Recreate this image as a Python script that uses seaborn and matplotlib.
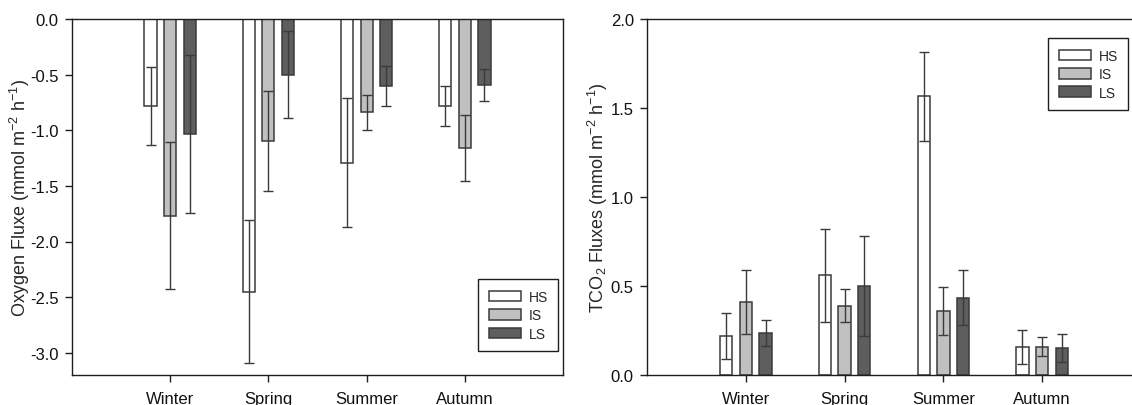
import numpy as np
import pandas as pd
import matplotlib
matplotlib.use("Agg")
import matplotlib.pyplot as plt
import seaborn as sns
from matplotlib.container import BarContainer

# ---------------- data ----------------
seasons = ["Winter", "Spring", "Summer", "Autumn"]
sites = ["HS", "IS", "LS"]

o2_hs = [-0.78, -2.45, -1.29, -0.78]
o2_is = [-1.77, -1.10, -0.84, -1.16]
o2_ls = [-1.03, -0.50, -0.60, -0.59]
o2_hs_err = [0.35, 0.645, 0.58, 0.18]
o2_is_err = [0.66, 0.45, 0.16, 0.295]
o2_ls_err = [0.71, 0.39, 0.18, 0.145]

tco2_hs = [0.22, 0.56, 1.565, 0.155]
tco2_is = [0.41, 0.39, 0.36, 0.16]
tco2_ls = [0.235, 0.50, 0.435, 0.15]
tco2_hs_err = [0.13, 0.26, 0.25, 0.096]
tco2_is_err = [0.18, 0.095, 0.137, 0.055]
tco2_ls_err = [0.074, 0.28, 0.155, 0.078]

o2_ticks = [0.0, -0.5, -1.0, -1.5, -2.0, -2.5, -3.0]
tco2_ticks = [0.0, 0.5, 1.0, 1.5, 2.0]

# ---------------- style ----------------
sns.set_style("ticks")
plt.rcParams["font.family"] = ["Liberation Sans", "DejaVu Sans"]
plt.rcParams["mathtext.fontset"] = "custom"
plt.rcParams["mathtext.rm"] = "Liberation Sans"
plt.rcParams["mathtext.it"] = "Liberation Sans:italic"
plt.rcParams["mathtext.default"] = "regular"
plt.rcParams["axes.unicode_minus"] = False

EDGE = "#3a3a3a"
SPINE = "#1e1e1e"
palette = {"HS": "#ffffff", "IS": "#c0c0c0", "LS": "#5e5e5e"}


def make_df(hs, is_, ls):
    rows = []
    for site, vals in zip(sites, [hs, is_, ls]):
        for s, v in zip(seasons, vals):
            rows.append({"season": s, "site": site, "value": v})
    return pd.DataFrame(rows)


def draw_panel(ax, vals, errs, ylim, yticks, ylabel, legend_loc, legend_anchor, label_x):
    df = make_df(*vals)
    sns.barplot(data=df, x="season", y="value", hue="site", order=seasons,
                hue_order=sites, palette=palette, width=0.6, gap=0.38,
                errorbar=None, edgecolor=EDGE, linewidth=1.1, saturation=1,
                legend=False, ax=ax, zorder=2)
    bars = [c for c in ax.containers if isinstance(c, BarContainer)]
    handles = []
    for cont, v, e in zip(bars, vals, errs):
        xs = [b.get_x() + b.get_width() / 2 for b in cont.patches]
        ax.errorbar(xs, v, yerr=e, fmt="none", ecolor=EDGE, elinewidth=1.0,
                    capsize=3.6, capthick=1.0, zorder=3)
        handles.append(cont.patches[0])
    leg = ax.legend(handles, sites, loc=legend_loc, bbox_to_anchor=legend_anchor,
                    fontsize=10, frameon=True, fancybox=False, edgecolor=SPINE,
                    framealpha=1, handlelength=2.3, handleheight=0.8,
                    labelspacing=0.32, borderpad=0.75, handletextpad=0.55,
                    borderaxespad=0)
    leg.get_frame().set_linewidth(1.0)
    ax.set_xlim(-1, 4)
    ax.set_ylim(*ylim)
    ax.set_yticks(yticks)
    ax.set_yticklabels([f"{t:.1f}" for t in yticks])
    ax.set_xlabel("")
    ax.set_ylabel(ylabel, fontsize=13)
    ax.yaxis.set_label_coords(label_x, 0.5)
    ax.tick_params(axis="both", direction="out", length=5, width=1.0,
                   color=SPINE, labelsize=12, labelcolor="#111111")
    ax.tick_params(axis="x", pad=6.5)
    ax.tick_params(axis="y", pad=4.5)
    for sp in ax.spines.values():
        sp.set_visible(True)
        sp.set_color(SPINE)
        sp.set_linewidth(1.0)


fig = plt.figure(figsize=(11.32, 4.06), dpi=100)
ax1 = fig.add_axes([72 / 1132, 1 - 376 / 406, 491 / 1132, 356 / 406])
ax2 = fig.add_axes([647 / 1132, 1 - 376 / 406, 494 / 1132, 356 / 406])

draw_panel(ax1, [o2_hs, o2_is, o2_ls], [o2_hs_err, o2_is_err, o2_ls_err],
           (-3.2, 0.0), o2_ticks,
           "Oxygen Fluxe (mmol m$^{-2}$ h$^{-1}$)",
           "lower right", (0.99, 0.067), -0.082)

draw_panel(ax2, [tco2_hs, tco2_is, tco2_ls], [tco2_hs_err, tco2_is_err, tco2_ls_err],
           (0.0, 2.0), tco2_ticks,
           "TCO$_2$ Fluxes (mmol m$^{-2}$ h$^{-1}$)",
           "upper right", (0.974, 0.946), -0.074)

fig.savefig("out.png", dpi=100, facecolor="white")
